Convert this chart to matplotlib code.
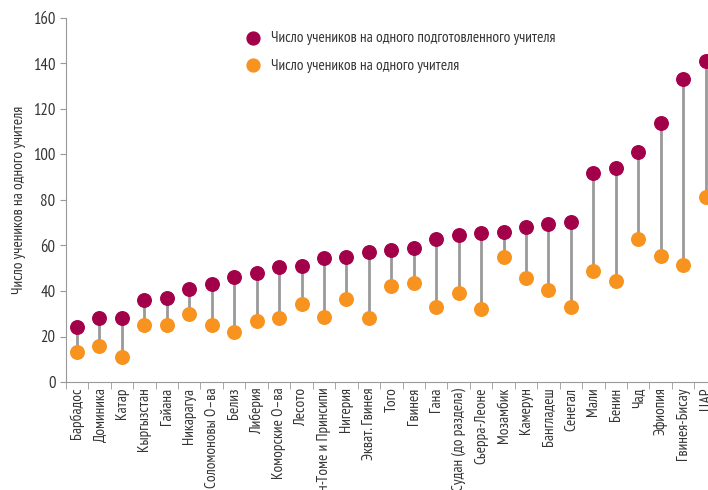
import numpy as np
import matplotlib.pyplot as plt

plt.rcParams['font.family'] = ['PT Sans Narrow', 'DejaVu Sans']

countries = ['Барбадос', 'Доминика', 'Катар', 'Кыргызстан', 'Гайана', 'Никарагуа',
             'Соломоновы О–ва', 'Белиз', 'Либерия', 'Коморские О–ва', 'Лесото',
             'Сан-Томе и Принсипи', 'Нигерия', 'Экват. Гвинея', 'Того', 'Гвинея', 'Гана',
             'Судан (до раздела)', 'Сьерра-Леоне', 'Мозамбик', 'Камерун', 'Бангладеш',
             'Сенегал', 'Мали', 'Бенин', 'Чад', 'Эфиопия', 'Гвинея-Бисау', 'ЦАР']
trained = [24, 28, 28, 36, 37, 41, 43, 46, 48, 50.5, 51, 54.5, 55, 57, 58, 59, 63,
           64.5, 65.5, 66, 68, 69.5, 70.5, 92, 94, 101, 114, 133, 141]
all_teachers = [13, 16, 11, 25, 25, 30, 25, 22, 27, 28, 34.5, 28.5, 36.5, 28, 42, 43.5, 33,
                39, 32, 55, 45.5, 40.5, 33, 49, 44.5, 63, 55.5, 51.5, 81.5]

purple = '#a3004a'
orange = '#f7931e'
grey = '#999999'
text_c = '#333333'

fig = plt.figure(figsize=(7.08, 4.90), dpi=100)
ax = fig.add_axes([65.8 / 708, 108 / 490, 651 / 708, 364 / 490])

x = np.arange(len(countries))
ax.vlines(x, all_teachers, trained, color=grey, lw=2, zorder=1)
ax.scatter(x, trained, s=95, color=purple, zorder=3, clip_on=False,
           label='Число учеников на одного подготовленного учителя')
ax.scatter(x, all_teachers, s=95, color=orange, zorder=3, clip_on=False,
           label='Число учеников на одного учителя')

ax.set_xlim(-0.5, len(countries) - 0.5)
ax.set_ylim(0, 160)
ax.set_yticks(np.arange(0, 161, 20))
ax.set_xticks(x)
ax.set_xticklabels(countries, rotation=90, fontsize=11, color=text_c)
ax.set_xticks(np.arange(-0.5, len(countries), 1), minor=True)
ax.tick_params(axis='x', which='major', length=0, pad=4)
ax.tick_params(axis='x', which='minor', length=5, color=grey, direction='out')
ax.tick_params(axis='y', length=4, color=grey, labelsize=12, labelcolor=text_c)

for s in ['top', 'right']:
    ax.spines[s].set_visible(False)
for s in ['left', 'bottom']:
    ax.spines[s].set_color(grey)

ax.set_ylabel('Число учеников на одного учителя', fontsize=11, color=text_c, labelpad=5)

ax.legend(loc='upper left', bbox_to_anchor=(224 / 708, 1 - 17 / 490),
          bbox_transform=fig.transFigure, frameon=False, fontsize=11,
          handletextpad=0.2, labelspacing=0.9, markerscale=0.95, labelcolor=text_c)

fig.savefig('out.png', dpi=100)
